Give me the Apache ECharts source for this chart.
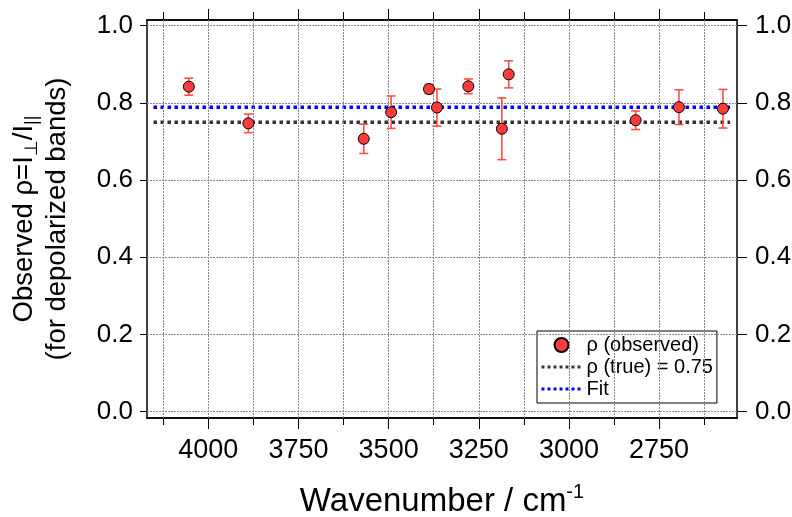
<!DOCTYPE html>
<html><head><meta charset="utf-8">
<script src="https://cdn.jsdelivr.net/npm/echarts@6/dist/echarts.min.js"></script>
<style>html,body{margin:0;padding:0;background:#fff}#c{width:792px;height:517px}</style>
</head><body><div id="c"></div>
<script>
// ---- data ----
const wavenumbers = [4054, 3889, 3569, 3493, 3388, 3366, 3279, 3186, 3167, 2815, 2695, 2573];
const rhoObserved = [0.842, 0.747, 0.707, 0.776, 0.836, 0.788, 0.843, 0.733, 0.874, 0.755, 0.789, 0.785];
const rhoError    = [0.022, 0.024, 0.038, 0.042, 0.012, 0.048, 0.019, 0.080, 0.035, 0.024, 0.045, 0.050];
const rhoTrue = 0.75;
const rhoFit = 0.789;
const lineRange = [4152, 2553];
const xMajorTicks = [2750, 3000, 3250, 3500, 3750, 4000];
const xMinorTicks = [2625, 2875, 3125, 3375, 3625, 3875, 4125];
const xGridValues = [2625, 2750, 2875, 3000, 3125, 3250, 3375, 3500, 3625, 3750, 3875, 4000, 4125];
const yTicks = [0, 0.2, 0.4, 0.6, 0.8, 1.0];
const names = ['ρ (observed)', 'ρ (true) = 0.75', 'Fit'];

const FONT = 'Liberation Sans, Arial, sans-serif';
const X_MIN = 2534, X_MAX = 4170, Y_MIN = -0.0163, Y_MAX = 1.0148;

function xAxisDef(pos, ticks, len, showLabel, extra) {
  return Object.assign({
    type: 'value', position: pos, inverse: true, min: X_MIN, max: X_MAX,
    axisLine: { show: true, onZero: false, lineStyle: { color: '#000', width: 1.5 } },
    axisTick: { show: true, length: len, customValues: ticks, lineStyle: { color: '#000', width: 1 } },
    axisLabel: showLabel ? { show: true, customValues: ticks, fontFamily: FONT, fontSize: 27, color: '#000', margin: 19,
                             formatter: v => String(v) } : { show: false },
    splitLine: { show: false }
  }, extra || {});
}
function yAxisDef(pos, len, margin, extra) {
  return Object.assign({
    type: 'value', position: pos, min: Y_MIN, max: Y_MAX,
    axisLine: { show: true, onZero: false, lineStyle: { color: '#000', width: 1.5 } },
    axisTick: { show: true, length: len, customValues: yTicks, lineStyle: { color: '#000', width: 1 } },
    axisLabel: { show: true, customValues: yTicks, fontFamily: FONT, fontSize: 26, color: '#000', margin: margin,
                 formatter: v => v.toFixed(1) },
    splitLine: { show: false }
  }, extra || {});
}

const gridMarks = xGridValues.map(v => ({ xAxis: v })).concat(yTicks.map(v => ({ yAxis: v })));
const hiddenSymbol = { opacity: 0, color: 'transparent', borderColor: 'transparent' };

const chart = echarts.init(document.getElementById('c'), null, { renderer: 'canvas' });
chart.setOption({
  animation: false,
  backgroundColor: '#fff',
  grid: { left: 147, right: 55, top: 20, bottom: 99, containLabel: false, outerBoundsMode: 'none' },
  xAxis: [
    xAxisDef('bottom', xMajorTicks, 11, true, {
      name: 'Wavenumber / cm{sup|-1}', nameLocation: 'middle', nameGap: 64,
      nameTextStyle: { fontFamily: FONT, fontSize: 33, color: '#000',
        rich: { sup: { fontFamily: FONT, fontSize: 20, verticalAlign: 'top', padding: [0, 0, 20, 0] } } }
    }),
    xAxisDef('bottom', xMinorTicks, 7, false),
    xAxisDef('top', xMajorTicks, 11, false),
    xAxisDef('top', xMinorTicks, 8, false)
  ],
  yAxis: [
    yAxisDef('left', 7, 14, {
      name: 'Observed ρ=I{sub|⊥}/I{sub|||}\n(for depolarized bands)',
      nameLocation: 'middle', nameRotate: 90, nameGap: 73,
      nameTextStyle: { fontFamily: FONT, fontSize: 27.5, color: '#000', lineHeight: 33,
        rich: { sub: { fontFamily: FONT, fontSize: 18, verticalAlign: 'bottom', lineHeight: 33 } } }
    }),
    yAxisDef('right', 10, 18)
  ],
  legend: {
    orient: 'vertical', left: 537, top: 331,
    data: [
      { name: names[0] },
      { name: names[1], itemStyle: hiddenSymbol, lineStyle: { color: '#333333', width: 3, type: [3, 3], opacity: 1 } },
      { name: names[2], itemStyle: hiddenSymbol, lineStyle: { color: '#0000ff', width: 3, type: [3, 3], opacity: 1 } }
    ],
    backgroundColor: '#fff', borderColor: '#000', borderWidth: 1, borderRadius: 0,
    padding: [4, 4, 4, 3], itemGap: 2, itemWidth: 40, itemHeight: 14,
    textStyle: { fontFamily: FONT, fontSize: 20, color: '#000', lineHeight: 20 },
    selectedMode: false
  },
  series: [
    {
      name: 'grid', type: 'line', data: [], z: 0, silent: true,
      markLine: { silent: true, symbol: ['none', 'none'], label: { show: false },
        lineStyle: { color: '#8a8a8a', width: 1, type: [2, 1] }, data: gridMarks, animation: false }
    },
    {
      name: names[1], type: 'line', z: 3, symbol: 'none',
      data: lineRange.map(x => [x, rhoTrue]),
      lineStyle: { color: '#333333', width: 3.5, type: [3.5, 3.5] }, itemStyle: { color: '#333333' }
    },
    {
      name: names[2], type: 'line', z: 4, symbol: 'none',
      data: lineRange.map(x => [x, rhoFit]),
      lineStyle: { color: '#0000ff', width: 3.5, type: [3.5, 3.5] }, itemStyle: { color: '#0000ff' }
    },
    {
      name: 'errors', type: 'custom', z: 5, silent: true,
      data: wavenumbers.map((w, i) => [w, rhoObserved[i] - rhoError[i], rhoObserved[i] + rhoError[i]]),
      renderItem: function (params, api) {
        const lo = api.coord([api.value(0), api.value(1)]);
        const hi = api.coord([api.value(0), api.value(2)]);
        const hw = 4.5;
        const st = { stroke: '#ff4d4d', lineWidth: 1.6 };
        return { type: 'group', children: [
          { type: 'line', shape: { x1: lo[0], y1: lo[1], x2: hi[0], y2: hi[1] }, style: st },
          { type: 'line', shape: { x1: lo[0] - hw, y1: lo[1], x2: lo[0] + hw, y2: lo[1] }, style: st },
          { type: 'line', shape: { x1: hi[0] - hw, y1: hi[1], x2: hi[0] + hw, y2: hi[1] }, style: st }
        ]};
      }
    },
    {
      name: names[0], type: 'scatter', z: 6, symbol: 'circle', symbolSize: 11,
      data: wavenumbers.map((w, i) => [w, rhoObserved[i]]),
      itemStyle: { color: '#ff3b3b', borderColor: '#000', borderWidth: 1, opacity: 1 }
    }
  ]
});
</script></body></html>
